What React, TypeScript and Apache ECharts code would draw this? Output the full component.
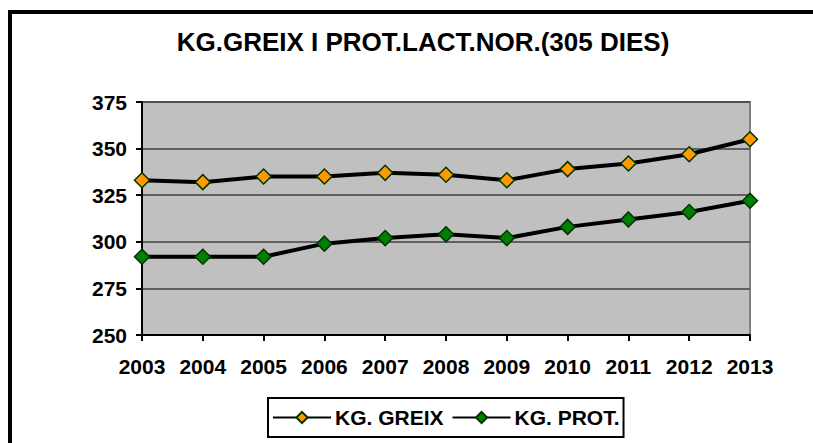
import React, { useEffect, useRef } from "react";
import * as echarts from "echarts";

const titleText = "KG.GREIX I PROT.LACT.NOR.(305 DIES)";
const years = ["2003", "2004", "2005", "2006", "2007", "2008", "2009", "2010", "2011", "2012", "2013"];
const greixName = "KG. GREIX";
const protName = "KG. PROT.";
const greixValues = [333, 332, 335, 335, 337, 336, 333, 339, 342, 347, 355];
const protValues = [292, 292, 292, 299, 302, 304, 302, 308, 312, 316, 322];

export default function App() {
  const ref = useRef<HTMLDivElement>(null);
  useEffect(() => {
    if (!ref.current) return;
    const chart = echarts.init(ref.current, undefined, { renderer: "svg" });
    const font = "Liberation Sans, Arial, sans-serif";
    chart.setOption({
      animation: false,
      backgroundColor: "#ffffff",
      title: {
        text: titleText,
        left: 418,
        textAlign: "center",
        top: 24,
        textStyle: { fontFamily: font, fontSize: 26, fontWeight: "bold", color: "#000" },
      },
      grid: {
        left: 142,
        top: 102,
        right: 63,
        bottom: 108,
        show: true,
        backgroundColor: "#C0C0C0",
        borderColor: "#808080",
        borderWidth: 2,
      },
      legend: {
        left: 268,
        top: 398,
        backgroundColor: "#fff",
        borderColor: "#000",
        borderWidth: 2,
        borderRadius: 0,
        padding: [9, 4, 9, 4],
        itemWidth: 58,
        itemHeight: 14,
        itemGap: 8,
        textStyle: { fontFamily: font, fontSize: 21, fontWeight: "bold", color: "#000", padding: [0, 0, 0, -1] },
        data: [greixName, protName],
      },
      xAxis: {
        type: "category",
        data: years,
        boundaryGap: false,
        axisLine: { lineStyle: { color: "#000", width: 2 } },
        axisTick: { show: true, length: 6, lineStyle: { color: "#000", width: 2 } },
        axisLabel: { fontFamily: font, fontSize: 21, fontWeight: "bold", color: "#000", margin: 21 },
        splitLine: { show: false },
      },
      yAxis: {
        type: "value",
        min: 250,
        max: 375,
        interval: 25,
        axisLine: { show: true, lineStyle: { color: "#000", width: 2 } },
        axisTick: { show: true, length: 6, lineStyle: { color: "#000", width: 2 } },
        axisLabel: { fontFamily: font, fontSize: 21, fontWeight: "bold", color: "#000", margin: 15 },
        splitLine: { show: true, lineStyle: { color: "#404040", width: 1.5 } },
      },
      series: [
        {
          name: greixName,
          type: "line",
          data: greixValues,
          symbol: "diamond",
          symbolSize: 15,
          lineStyle: { color: "#000", width: 4 },
          itemStyle: { color: "#FF9900", borderColor: "#003300", borderWidth: 1.5 },
          z: 3,
        },
        {
          name: protName,
          type: "line",
          data: protValues,
          symbol: "diamond",
          symbolSize: 15,
          lineStyle: { color: "#000", width: 4 },
          itemStyle: { color: "#008000", borderColor: "#003300", borderWidth: 1.5 },
          z: 3,
        },
      ],
      graphic: [
        {
          type: "rect",
          shape: { x: 10, y: 12, width: 1000, height: 1000 },
          style: { fill: "none", stroke: "#000", lineWidth: 4 },
          silent: true,
        },
      ],
    });
    return () => chart.dispose();
  }, []);
  return (
    <div
      ref={ref}
      style={{ position: "fixed", left: 0, top: 0, width: 813, height: 443 }}
    />
  );
}
